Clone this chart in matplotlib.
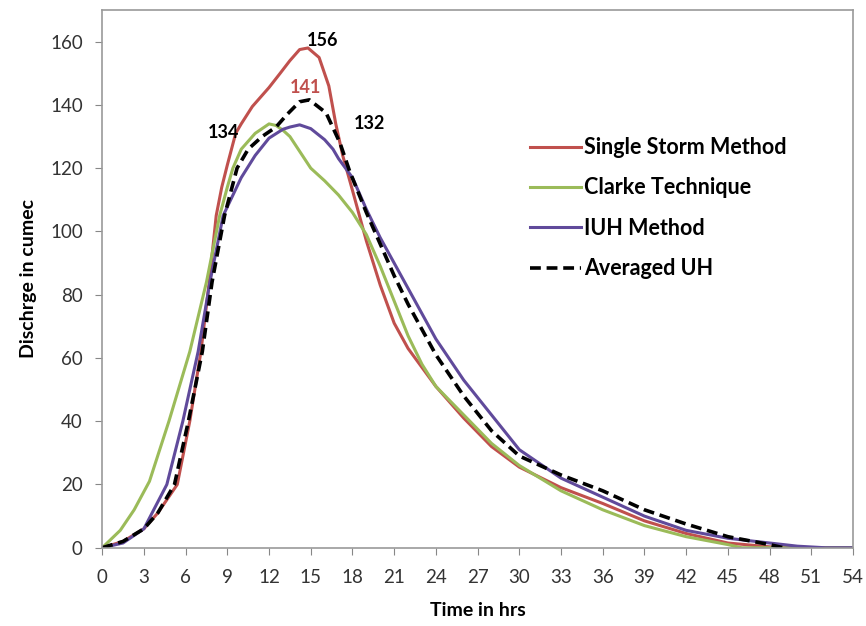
import numpy as np
import matplotlib.pyplot as plt

plt.rcParams['font.family'] = ['Lato', 'DejaVu Sans']

# Single Storm Method
t_ss = [0, 1.5, 3, 4, 5.4, 6.3, 7.1, 7.7, 8.2, 8.6, 9, 9.3, 9.6, 10, 10.8, 12, 12.8, 13.5, 14.2,
        14.8, 15.6, 16.3, 16.8, 17.3, 18, 19, 20, 21, 22, 23, 24, 26, 28, 30, 33, 36, 39,
        42, 45, 48, 51, 54]
q_ss = [0, 2, 6, 11, 20, 40, 62, 84, 105, 114, 121, 126, 131, 134, 139.5, 145.5, 150, 154, 157.5,
        158, 155, 146, 134, 124, 113, 97, 83, 71, 63, 57, 51, 41, 32, 25.5, 19, 14, 8.5,
        4.5, 1.5, 0.3, 0, 0]

# Clarke Technique
t_ct = [0, 1.3, 2.3, 3.4, 4.8, 6.3, 7.5, 8.45, 9, 9.4, 10, 11, 12, 12.5, 13, 13.5, 14.4, 15,
        16, 17, 18, 19, 20, 21, 22, 23, 24, 26, 28, 30, 33, 36, 39, 42, 45, 46, 54]
q_ct = [0, 5.5, 12, 21, 40, 62, 84, 105, 114, 120, 126, 131, 134, 133.5, 132, 130, 124, 120,
        116, 111.5, 106, 99, 89, 78, 67, 58, 51, 42, 33, 26, 18, 12, 7, 3.5, 1, 0, 0]

# IUH Method
t_iuh = [0, 1.5, 3, 4.65, 5.8, 6.9, 7.75, 8.7, 10, 11, 12, 13, 13.5, 14.2, 15, 16, 16.6, 17, 18,
         19, 20, 21, 22, 23, 24, 26, 28, 30, 33, 36, 39, 42, 45, 48, 50, 52, 54]
q_iuh = [0, 1.5, 6, 20, 40, 62, 84, 105, 117, 124, 129.5, 132.3, 133, 133.7, 132.5, 129, 126, 123, 117,
         107, 98, 90, 82, 74, 66, 53, 42, 31, 22, 16, 10, 5.5, 3, 1.5, 0.5, 0, 0]

# Averaged UH
t_avg = [0, 1.5, 3, 4, 5.2, 6.2, 7.2, 7.9, 8.8, 9.7, 10.5, 11.5, 12.5, 13.3, 14.2, 14.9, 16.1,
         17.1, 17.8, 19, 20, 21, 22, 23, 24, 26, 28, 30, 33, 36, 39, 42, 45, 48, 49]
q_avg = [0, 2, 6, 11, 20, 40, 62, 84, 105, 120, 126, 130, 133, 137, 141, 141.6, 137.5,
         128, 119, 106, 96, 86, 77, 69, 61, 48, 37, 29, 23, 18, 12, 7.5, 3.5, 1, 0]

x_ticks = list(range(0, 55, 3))
y_ticks = list(range(0, 161, 20))

fig = plt.figure(figsize=(8.66, 6.26), dpi=100)
ax = fig.add_axes([0.118, 0.125, 0.867, 0.859])

lw = 2.2
ax.plot(t_ss, q_ss, color='#C0504D', lw=lw, label='Single Storm Method')
ax.plot(t_ct, q_ct, color='#9BBB59', lw=lw, label='Clarke Technique')
ax.plot(t_iuh, q_iuh, color='#604A9B', lw=lw, label='IUH Method')
ax.plot(t_avg, q_avg, color='black', lw=2.6, ls=(0, (3, 1.6)), label='Averaged UH')

ax.set_xlim(0, 54)
ax.set_ylim(0, 170)
ax.set_xticks(x_ticks)
ax.set_yticks(y_ticks)
ax.tick_params(labelsize=13.5, colors='#878787', labelcolor='#333333', length=5)
ax.tick_params(axis='x', pad=10)
ax.tick_params(axis='y', pad=9)
for s in ax.spines.values():
    s.set_color('#9A9A9A')
    s.set_linewidth(1.2)

ax.set_xlabel('Time in hrs', fontsize=14, fontweight='bold', labelpad=12)
ax.set_ylabel('Dischrge in cumec', fontsize=14, fontweight='bold', labelpad=9)

ax.text(15.85, 160.5, '156', fontsize=13, fontweight='bold', ha='center', va='center')
ax.text(14.6, 145.5, '141', fontsize=13, fontweight='bold', color='#C0504D', ha='center', va='center')
ax.text(19.2, 134.2, '132', fontsize=13, fontweight='bold', ha='center', va='center')
ax.text(8.7, 131.2, '134', fontsize=13, fontweight='bold', ha='center', va='center')

ax.legend(loc='upper left', bbox_to_anchor=(0.612, 0.781), bbox_transform=fig.transFigure,
          frameon=False, borderpad=0, borderaxespad=0,
          prop={'size': 15.5, 'weight': 'bold'}, handlelength=2.35, handletextpad=0.15,
          labelspacing=0.9)

fig.savefig('out.png', dpi=100)
